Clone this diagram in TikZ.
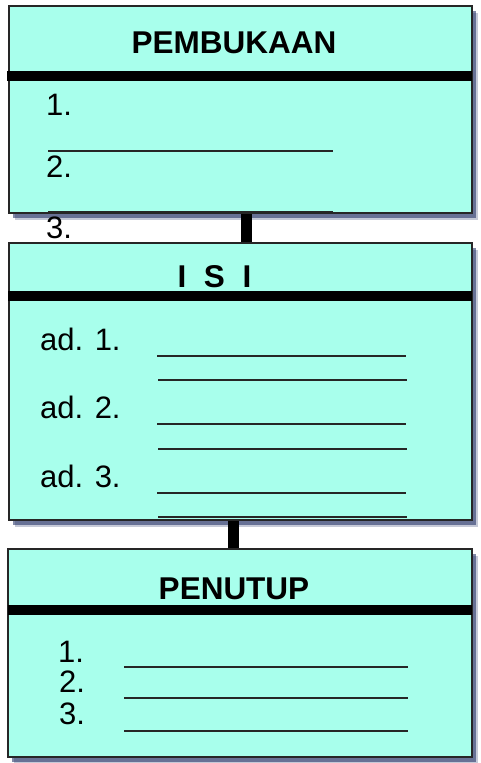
\documentclass[tikz,border=0pt]{standalone}
\usepackage{fontspec}
\setmainfont{Liberation Sans}
\usepackage{tikz}
\usetikzlibrary{shadows,calc,positioning}
\definecolor{aquabox}{RGB}{168,255,236}
\definecolor{shadownavy}{RGB}{25,40,95}
\tikzset{
  partbox/.style={rectangle,draw=black!85,line width=2pt,fill=aquabox,minimum width=463pt,
    drop shadow={shadow xshift=6pt,shadow yshift=-7pt,fill=shadownavy,opacity=.25},
    drop shadow={shadow xshift=4pt,shadow yshift=-5pt,fill=shadownavy,opacity=.55}},
  titletext/.style={font=\fontsize{31.5}{36}\selectfont\bfseries,anchor=base,inner sep=0pt},
  itemtext/.style={font=\fontsize{31}{34}\selectfont,anchor=base west,inner sep=0pt},
  headbar/.style={line width=10pt,color=black},
  linkbar/.style={line width=11pt,color=black},
  blankline/.style={line width=1.6pt,color=black!85}
}
\begin{document}
\begin{tikzpicture}[x=1pt,y=1pt]
  \useasboundingbox (0,0) rectangle (481,-763);

  \node[partbox,minimum height=207pt] (pembukaan) at (240.5,-109.5) {};
  \node[partbox,minimum height=277pt] (isi) at (240.5,-381.5) {};
  \node[partbox,minimum width=464pt,minimum height=208pt] (penutup) at (240,-653) {};

  \draw[headbar] (7,-76) -- (472,-76);
  \draw[headbar] (8,-296) -- (472,-296);
  \draw[headbar] (8,-609.5) -- (472,-609.5);

  \draw[linkbar] ([xshift=5.5pt]pembukaan.south) -- ([xshift=5.5pt]pembukaan.south |- isi.north);
  \draw[linkbar] ([xshift=-7.5pt]isi.south) -- ([xshift=-7.5pt]isi.south |- penutup.north);

  \node[titletext] (pembukaanTitle) at (234,-53) {PEMBUKAAN};
  \node[titletext] (isiTitle) at (214.5,-287) {I~~S~~I};
  \node[titletext] (penutupTitle) at (234,-599) {PENUTUP};

  \node[itemtext] (open1) at (46,-115) {1.};
  \node[itemtext] (open2) at (46,-177) {2.};
  \node[itemtext] (open3) at (46,-238) {3.};
  \draw[blankline] (48,-151) -- (333,-151);
  \draw[blankline] (48,-212) -- (333,-212);

  \node[itemtext] (ad1) at (40,-350) {ad. 1.};
  \node[itemtext] (ad2) at (40,-418) {ad. 2.};
  \node[itemtext] (ad3) at (40,-487) {ad. 3.};
  \draw[blankline] (157,-356) -- (406,-356);
  \draw[blankline] (158,-380) -- (407,-380);
  \draw[blankline] (157,-424) -- (406,-424);
  \draw[blankline] (158,-449) -- (407,-449);
  \draw[blankline] (157,-493) -- (406,-493);
  \draw[blankline] (158,-517) -- (407,-517);

  \node[itemtext] (close1) at (58,-662) {1.};
  \node[itemtext] (close2) at (59,-692) {2.};
  \node[itemtext] (close3) at (59,-724) {3.};
  \draw[blankline] (124,-667) -- (408,-667);
  \draw[blankline] (124,-698) -- (408,-698);
  \draw[blankline] (124,-731) -- (408,-731);
\end{tikzpicture}
\end{document}
